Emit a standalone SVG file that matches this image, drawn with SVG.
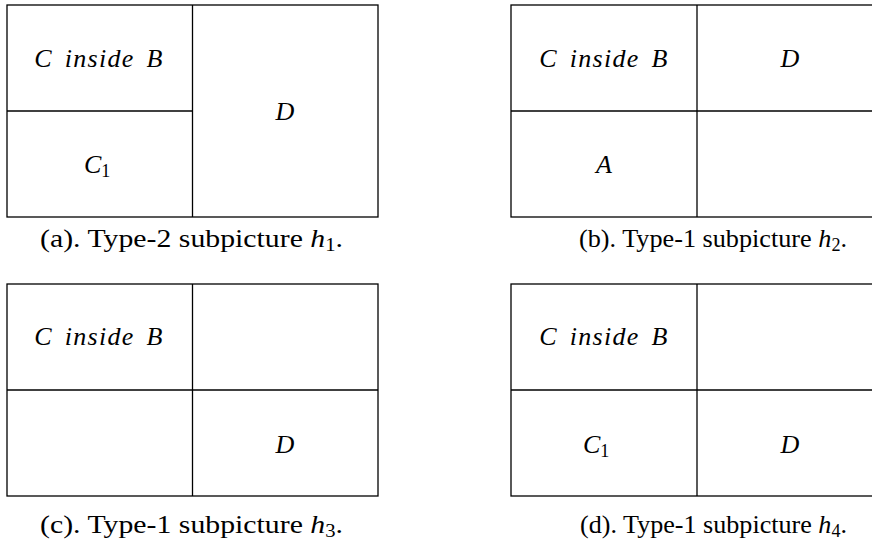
<svg xmlns="http://www.w3.org/2000/svg" width="872" height="543" viewBox="0 0 872 543">
<style>
.b{fill:none;stroke:#000;stroke-width:1.3}
.t{font-family:"Liberation Serif","Times New Roman",serif;font-size:26px;fill:#000}
.i{font-style:italic}
.w{word-spacing:4px;letter-spacing:1.3px}
.s{font-size:18px;font-style:normal}
</style>
<rect width="872" height="543" fill="#fff"/>
<g id="panel-a">
<rect class="b" x="7" y="5" width="371" height="212"/>
<line class="b" x1="192.5" y1="5" x2="192.5" y2="217"/>
<line class="b" x1="7" y1="111" x2="192.5" y2="111"/>
<text class="t i w" x="99" y="67" text-anchor="middle">C inside B</text>
<text class="t i" x="285" y="120" text-anchor="middle">D</text>
<text class="t i" x="84" y="173">C<tspan class="s" dy="4">1</tspan></text>
<text class="t" x="40" y="247" textLength="303" lengthAdjust="spacingAndGlyphs">(a).  Type-2 subpicture <tspan class="i">h</tspan><tspan class="s" dy="4">1</tspan><tspan dy="-4">.</tspan></text>
</g>
<g id="panel-b">
<rect class="b" x="511" y="5" width="372" height="212"/>
<line class="b" x1="697" y1="5" x2="697" y2="217"/>
<line class="b" x1="511" y1="111" x2="883" y2="111"/>
<text class="t i w" x="604" y="67" text-anchor="middle">C inside B</text>
<text class="t i" x="790" y="67" text-anchor="middle">D</text>
<text class="t i" x="604" y="173" text-anchor="middle">A</text>
<text class="t" x="579" y="247" textLength="268" lengthAdjust="spacingAndGlyphs">(b).  Type-1 subpicture <tspan class="i">h</tspan><tspan class="s" dy="4">2</tspan><tspan dy="-4">.</tspan></text>
</g>
<g id="panel-c">
<rect class="b" x="7" y="284" width="371" height="212"/>
<line class="b" x1="192.5" y1="284" x2="192.5" y2="496"/>
<line class="b" x1="7" y1="390" x2="378" y2="390"/>
<text class="t i w" x="99" y="345" text-anchor="middle">C inside B</text>
<text class="t i" x="285" y="453" text-anchor="middle">D</text>
<text class="t" x="40" y="533" textLength="303" lengthAdjust="spacingAndGlyphs">(c).  Type-1 subpicture <tspan class="i">h</tspan><tspan class="s" dy="4">3</tspan><tspan dy="-4">.</tspan></text>
</g>
<g id="panel-d">
<rect class="b" x="511" y="284" width="372" height="212"/>
<line class="b" x1="697" y1="284" x2="697" y2="496"/>
<line class="b" x1="511" y1="390" x2="883" y2="390"/>
<text class="t i w" x="604" y="345" text-anchor="middle">C inside B</text>
<text class="t i" x="583" y="453">C<tspan class="s" dy="4">1</tspan></text>
<text class="t i" x="790" y="453" text-anchor="middle">D</text>
<text class="t" x="580" y="533" textLength="267" lengthAdjust="spacingAndGlyphs">(d).  Type-1 subpicture <tspan class="i">h</tspan><tspan class="s" dy="4">4</tspan><tspan dy="-4">.</tspan></text>
</g>
<g id="connectors"/>
</svg>
